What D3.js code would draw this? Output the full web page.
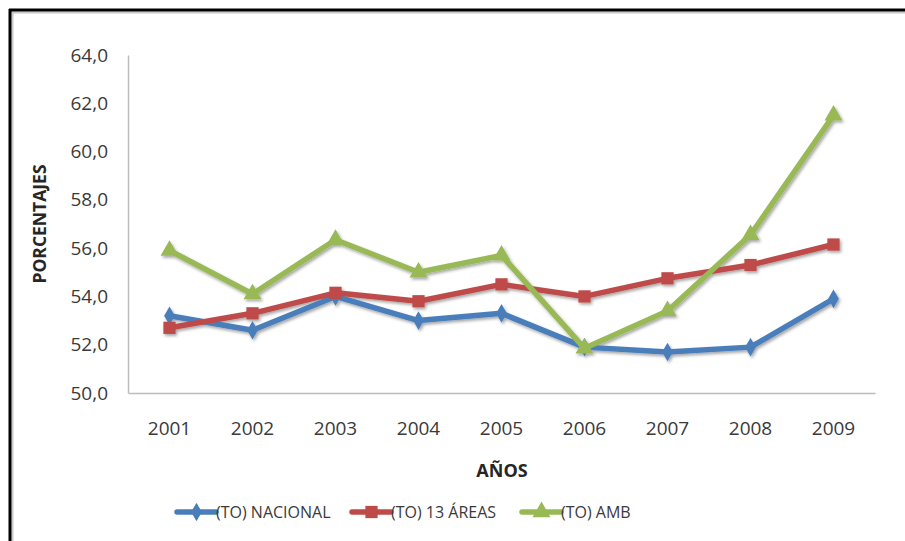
<!DOCTYPE html>
<html>
<head>
<meta charset="utf-8">
<script src="https://cdn.jsdelivr.net/npm/d3@7"></script>
<style>
  body { margin: 0; background: #fff; }
  svg { display: block; font-family: "Open Sans", sans-serif; }
</style>
</head>
<body>
<svg id="chart" width="905" height="541"></svg>
<script>
// datos
let years = ["2001", "2002", "2003", "2004", "2005", "2006", "2007", "2008", "2009"]
let nacional = [53.2, 52.6, 54.0, 53.0, 53.3, 51.9, 51.7, 51.9, 53.9]
let areas13 = [52.7, 53.3, 54.15, 53.8, 54.5, 54.0, 54.75, 55.3, 56.15]
let amb = [55.9, 54.1, 56.35, 55.0, 55.7, 51.85, 53.4, 56.55, 61.5]
let seriesNames = ["(TO) NACIONAL", "(TO) 13 ÁREAS", "(TO) AMB"]
let yTicks = [50, 52, 54, 56, 58, 60, 62, 64]

let svg = d3.select("#chart")

// marco
svg.append("line").attr("x1", 11).attr("x2", 905).attr("y1", 12.5).attr("y2", 12.5)
    .attr("stroke", "#c8c8c8").attr("stroke-width", 2)
svg.append("line").attr("x1", 12.5).attr("x2", 12.5).attr("y1", 11).attr("y2", 541)
    .attr("stroke", "#c8c8c8").attr("stroke-width", 2)
svg.append("line").attr("x1", 9).attr("x2", 905).attr("y1", 10).attr("y2", 10)
    .attr("stroke", "#000").attr("stroke-width", 3)
svg.append("line").attr("x1", 10).attr("x2", 10).attr("y1", 9).attr("y2", 541)
    .attr("stroke", "#000").attr("stroke-width", 3)

let plotLeft = 128, plotRight = 875, plotTop = 55, plotBottom = 393

let x = d3.scaleBand().domain(years).range([plotLeft, plotRight])
let y = d3.scaleLinear().domain([50, 64]).range([plotBottom, plotTop])

// sombra
let defs = svg.append("defs")
let filter = defs.append("filter").attr("id", "shadow")
    .attr("x", "-20%").attr("y", "-20%").attr("width", "140%").attr("height", "140%")
filter.append("feDropShadow").attr("dx", 1.5).attr("dy", 2).attr("stdDeviation", 1.5)
    .attr("flood-color", "#000").attr("flood-opacity", 0.35)

// ejes
let yAxis = svg.append("g")
    .attr("transform", `translate(${plotLeft},0)`)
    .call(d3.axisLeft(y).tickValues(yTicks).tickSize(0).tickPadding(20)
        .tickFormat(d => d3.format(".1f")(d).replace(".", ",")))
yAxis.select(".domain").attr("stroke", "#bdbdbd").attr("stroke-width", 1.5)
yAxis.selectAll("text").attr("font-size", 19).attr("fill", "#3a3a3a")
    .attr("font-family", "Open Sans")

let xAxis = svg.append("g")
    .attr("transform", `translate(0,${plotBottom})`)
    .call(d3.axisBottom(x).tickSize(0).tickPadding(29))
xAxis.select(".domain").attr("stroke", "#bdbdbd").attr("stroke-width", 1.5)
xAxis.selectAll("text").attr("font-size", 19).attr("fill", "#3a3a3a")
    .attr("font-family", "Open Sans")

// titulos
svg.append("text")
    .attr("transform", "translate(46,224) rotate(-90)")
    .attr("text-anchor", "middle")
    .attr("font-size", 17.5).attr("font-weight", "bold").attr("fill", "#262626")
    .text("PORCENTAJES")
svg.append("text")
    .attr("x", 502).attr("y", 477)
    .attr("text-anchor", "middle")
    .attr("font-size", 18).attr("font-weight", "bold").attr("fill", "#262626")
    .text("AÑOS")

let colors = ["#4a7ebb", "#be4b48", "#98b954"]
let allSeries = [nacional, areas13, amb]
let shapes = [d3.symbolDiamond, d3.symbolSquare, d3.symbolTriangle]
let sizes = [100, 150, 140]

let line = d3.line()
    .x((d, i) => x(years[i]) + x.bandwidth() / 2)
    .y(d => y(d))

let plot = svg.append("g").attr("filter", "url(#shadow)")
allSeries.forEach((vals, s) => {
    let g = plot.append("g")
    g.append("path")
        .attr("d", line(vals))
        .attr("fill", "none")
        .attr("stroke", colors[s])
        .attr("stroke-width", 5.5)
        .attr("stroke-linejoin", "round")
    g.selectAll("path.mk")
        .data(vals)
        .enter()
        .append("path")
        .attr("class", "mk")
        .attr("d", d3.symbol().type(shapes[s]).size(sizes[s]))
        .attr("transform", (d, i) => `translate(${x(years[i]) + x.bandwidth() / 2},${y(d)})`)
        .attr("fill", colors[s])
})

// leyenda
let legendX = [177, 352, 522]
let legend = svg.append("g")
seriesNames.forEach((name, s) => {
    let g = legend.append("g").attr("transform", `translate(${legendX[s]},512)`)
    g.append("line").attr("x1", 0).attr("x2", 39).attr("y1", 0).attr("y2", 0)
        .attr("stroke", colors[s]).attr("stroke-width", 5.5).attr("stroke-linecap", "round")
    g.append("path").attr("d", d3.symbol().type(shapes[s]).size(sizes[s]))
        .attr("transform", "translate(19.5,0)").attr("fill", colors[s])
    g.append("text").attr("x", 39).attr("y", 0).attr("dy", "0.35em")
        .attr("font-size", 16).attr("fill", "#3a3a3a")
        .text(name)
})
</script>
</body>
</html>
